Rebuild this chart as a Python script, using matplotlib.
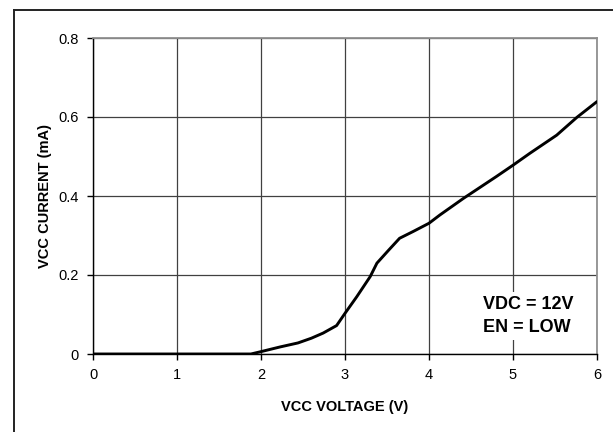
import matplotlib
matplotlib.use("Agg")
import matplotlib.pyplot as plt
from matplotlib.lines import Line2D

vcc_voltage = [0.0, 1.0, 1.88, 2.0, 2.23, 2.44, 2.6, 2.74, 2.9, 3.0, 3.14, 3.3, 3.38, 3.52, 3.65,
               3.81, 4.0, 4.13, 4.41, 4.8, 5.0, 5.2, 5.52, 5.76, 6.0]
vcc_current = [0.0, 0.0, 0.0, 0.006, 0.018, 0.028, 0.04, 0.053, 0.072, 0.103, 0.145, 0.196, 0.23,
               0.263, 0.293, 0.31, 0.331, 0.352, 0.394, 0.449, 0.478, 0.508, 0.554, 0.599, 0.639]
x_ticks = [0, 1, 2, 3, 4, 5, 6]
y_ticks = [0, 0.2, 0.4, 0.6, 0.8]
y_tick_labels = ["0", "0.2", "0.4", "0.6", "0.8"]

plt.rcParams['font.family'] = ['Liberation Sans', 'DejaVu Sans']

W, H = 613, 432
fig = plt.figure(figsize=(W / 100, H / 100), dpi=100)
ax = fig.add_axes([93 / W, 1 - 354 / H, (597 - 93) / W, (354 - 38) / H])

ax.plot(vcc_voltage, vcc_current, color='black', lw=2.1, solid_capstyle='round', zorder=3)

ax.set_xlim(0, 6)
ax.set_ylim(0, 0.8)
ax.set_xticks(x_ticks)
ax.set_yticks(y_ticks)
ax.set_yticklabels(y_tick_labels)
ax.grid(True, color='#404040', lw=0.9)
ax.set_axisbelow(True)
ax.tick_params(direction='out', length=4, width=1, colors='black', labelsize=10.5, pad=6)

for s in ['left', 'bottom']:
    ax.spines[s].set_color('black')
    ax.spines[s].set_linewidth(1.0)
for s in ['right', 'top']:
    ax.spines[s].set_color('#909090')
    ax.spines[s].set_linewidth(1.3)

ax.set_xlabel("VCC VOLTAGE (V)", fontsize=10.5, fontweight='bold', labelpad=13)
ax.set_ylabel("VCC CURRENT (mA)", fontsize=10.5, fontweight='bold', labelpad=5)

ax.text(4.64, 0.096, "VDC = 12V\nEN = LOW", fontsize=13, fontweight='bold',
        ha='left', va='center', linespacing=1.5, zorder=4,
        bbox=dict(facecolor='white', edgecolor='none', pad=3))

# outer border (only top & left visible in the reference)
fig.add_artist(Line2D([13.5 / W, 13.5 / W], [1 - 10 / H, 0], transform=fig.transFigure,
                      color='#222222', lw=1.4))
fig.add_artist(Line2D([13.5 / W, 1], [1 - 10 / H, 1 - 10 / H], transform=fig.transFigure,
                      color='#222222', lw=1.4))

fig.savefig("out.png", dpi=100)
